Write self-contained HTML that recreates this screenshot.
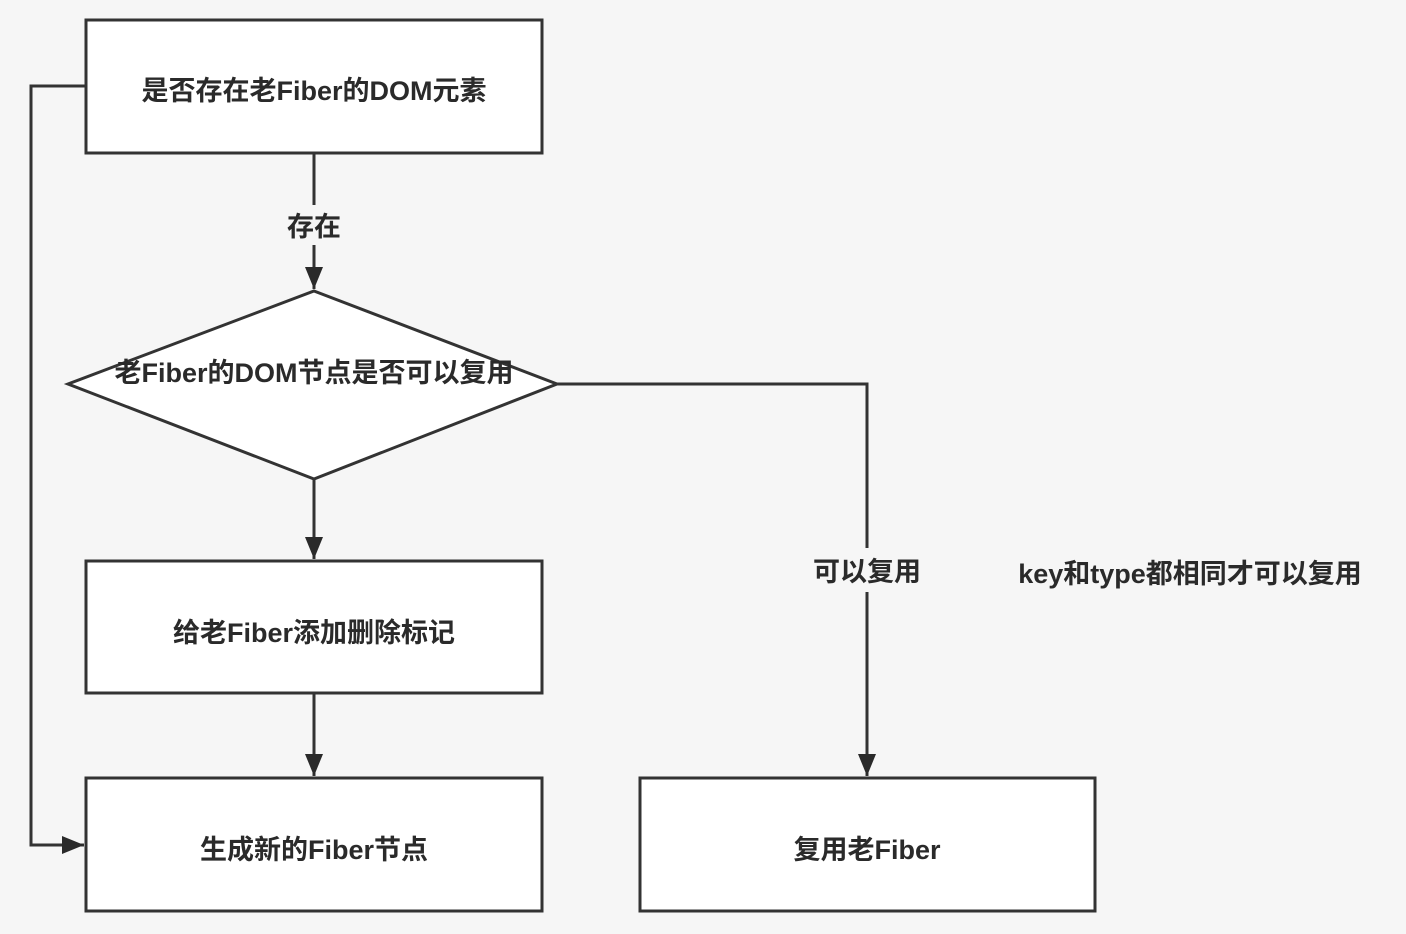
<!DOCTYPE html>
<html><head><meta charset="utf-8"><style>
body{margin:0;background:#f6f6f6;}
svg{display:block;}
text{font-family:"Liberation Sans","Noto Sans CJK SC",sans-serif;font-weight:bold;fill:#2a2a2a;font-size:27px;}
</style></head><body>
<svg width="1406" height="934" viewBox="0 0 1406 934">
<defs><marker id="a" markerWidth="10" markerHeight="10" refX="9" refY="5" orient="auto" markerUnits="userSpaceOnUse" viewBox="0 0 10 10"><path d="M0,0 L10,5 L0,10Z" fill="#2a2a2a"/></marker>
<marker id="b" markerWidth="22" markerHeight="28" refX="22" refY="14" orient="auto" markerUnits="userSpaceOnUse"><path d="M0,5 L22,14 L0,23Z" fill="#2a2a2a"/></marker></defs>
<g stroke="#333" stroke-width="3" fill="#fff">
<rect x="86" y="20" width="456" height="133"/>
<polygon points="314,291 557,384 314,479 68,384"/>
<rect x="86" y="561" width="456" height="132"/>
<rect x="86" y="778" width="456" height="133"/>
<rect x="640" y="778" width="455" height="133"/>
</g>
<g stroke="#333" stroke-width="3" fill="none">
<path d="M314,153 V205"/>
<path d="M314,245 V289" marker-end="url(#b)"/>
<path d="M314,479 V559" marker-end="url(#b)"/>
<path d="M314,693 V776" marker-end="url(#b)"/>
<path d="M86,86 H31 V845 H84" marker-end="url(#b)"/>
<path d="M557,384 H867 V548"/>
<path d="M867,592 V776" marker-end="url(#b)"/>
</g>
<rect x="282" y="207" width="64" height="38" fill="#f6f6f6"/>
<rect x="805" y="550" width="124" height="42" fill="#f6f6f6"/>
<text x="314" y="100" text-anchor="middle">是否存在老Fiber的DOM元素</text>
<text x="314" y="236" text-anchor="middle">存在</text>
<text x="314" y="382" text-anchor="middle">老Fiber的DOM节点是否可以复用</text>
<text x="314" y="642" text-anchor="middle">给老Fiber添加删除标记</text>
<text x="314" y="859" text-anchor="middle">生成新的Fiber节点</text>
<text x="867" y="859" text-anchor="middle">复用老Fiber</text>
<text x="867" y="581" text-anchor="middle">可以复用</text>
<text x="1190" y="583" text-anchor="middle">key和type都相同才可以复用</text>
</svg>
</body></html>
